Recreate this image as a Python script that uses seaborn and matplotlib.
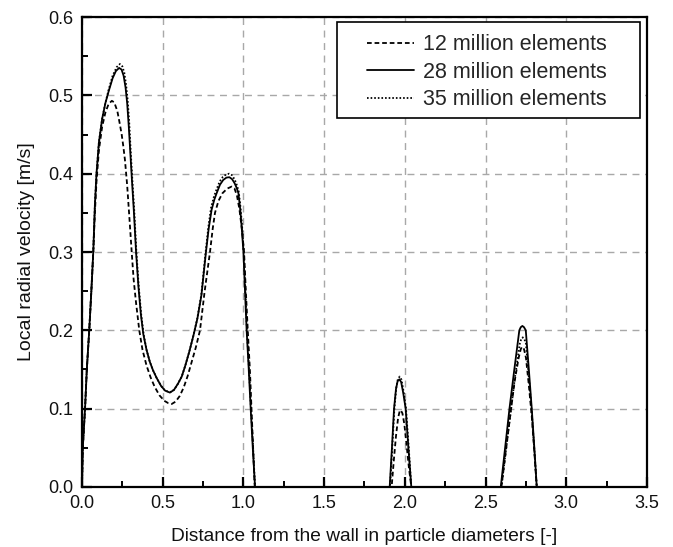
import matplotlib
matplotlib.use("Agg")
import matplotlib.pyplot as plt
import seaborn as sns
from matplotlib.ticker import MultipleLocator
from matplotlib.patches import Rectangle

# ---- data ----
series_labels = ["12 million elements", "28 million elements", "35 million elements"]

x12 = [0, 0.005, 0.019, 0.03, 0.045, 0.058, 0.07, 0.08, 0.09, 0.105, 0.125, 0.145, 0.165,
       0.185, 0.2, 0.219, 0.233, 0.246, 0.256, 0.266, 0.28, 0.295, 0.308, 0.32, 0.335, 0.355,
       0.375, 0.40, 0.425, 0.45, 0.48, 0.51, 0.535, 0.556, 0.58, 0.605, 0.63, 0.655, 0.68,
       0.705, 0.731, 0.76, 0.793, 0.81, 0.824, 0.845, 0.87, 0.9, 0.927, 0.945, 0.96, 0.975,
       0.99, 1.004, 1.015, 1.027, 1.04, 1.05, 1.06, 1.07, 1.5,
       1.918, 1.932, 1.945, 1.958, 1.968, 1.975, 1.985, 1.997, 2.01, 2.025, 2.04, 2.3,
       2.598, 2.625, 2.652, 2.68, 2.705, 2.718, 2.726, 2.738, 2.75, 2.768, 2.786, 2.802,
       2.817, 2.85]
y12 = [0, 0.05, 0.10, 0.15, 0.20, 0.25, 0.30, 0.35, 0.39, 0.43, 0.46, 0.478, 0.489,
       0.493, 0.491, 0.48, 0.465, 0.45, 0.435, 0.418, 0.385, 0.34, 0.30, 0.265, 0.235, 0.20,
       0.175, 0.155, 0.14, 0.128, 0.117, 0.11, 0.107, 0.106, 0.109, 0.116, 0.127, 0.142, 0.16,
       0.178, 0.20, 0.25, 0.30, 0.33, 0.35, 0.365, 0.375, 0.381, 0.3835, 0.381, 0.372, 0.355,
       0.33, 0.30, 0.25, 0.20, 0.15, 0.10, 0.05, 0, 0,
       0, 0.035, 0.065, 0.088, 0.097, 0.098, 0.094, 0.08, 0.055, 0.025, 0, 0,
       0, 0.045, 0.09, 0.135, 0.165, 0.176, 0.179, 0.176, 0.165, 0.13, 0.09, 0.045,
       0, 0]

x28 = [0, 0.005, 0.019, 0.03, 0.045, 0.058, 0.07, 0.08, 0.09, 0.105, 0.125, 0.145, 0.165,
       0.19, 0.21, 0.23, 0.245, 0.258, 0.27, 0.28, 0.29, 0.30, 0.31, 0.322, 0.335, 0.35,
       0.365, 0.38, 0.40, 0.42, 0.44, 0.463, 0.49, 0.515, 0.545, 0.57, 0.595, 0.618, 0.64,
       0.665, 0.69, 0.715, 0.74, 0.768, 0.785, 0.803, 0.82, 0.834, 0.855, 0.875, 0.895, 0.913,
       0.93, 0.945, 0.958, 0.969, 0.98, 0.99, 1.0, 1.01, 1.02, 1.033, 1.045, 1.058, 1.072, 1.5,
       1.906, 1.92, 1.933, 1.945, 1.955, 1.966, 1.977, 1.99, 2.005, 2.022, 2.04, 2.3,
       2.594, 2.621, 2.648, 2.678, 2.709, 2.718, 2.728, 2.738, 2.749, 2.768, 2.786, 2.802,
       2.817, 2.85]
y28 = [0, 0.05, 0.10, 0.15, 0.20, 0.25, 0.30, 0.36, 0.40, 0.44, 0.47, 0.49, 0.505,
       0.522, 0.531, 0.535, 0.533, 0.525, 0.51, 0.49, 0.46, 0.425, 0.39, 0.35, 0.30, 0.255,
       0.22, 0.195, 0.175, 0.16, 0.149, 0.139, 0.129, 0.123, 0.1205, 0.124, 0.132, 0.141, 0.155,
       0.173, 0.193, 0.215, 0.245, 0.30, 0.33, 0.354, 0.367, 0.375, 0.386, 0.392, 0.395, 0.3955,
       0.393, 0.388, 0.382, 0.375, 0.355, 0.33, 0.30, 0.25, 0.20, 0.15, 0.10, 0.05, 0, 0,
       0, 0.05, 0.10, 0.125, 0.135, 0.1375, 0.134, 0.12, 0.10, 0.05, 0, 0,
       0, 0.05, 0.10, 0.15, 0.20, 0.204, 0.2056, 0.204, 0.20, 0.15, 0.10, 0.05,
       0, 0]

x35 = [0, 0.005, 0.019, 0.03, 0.045, 0.058, 0.07, 0.08, 0.09, 0.105, 0.125, 0.145, 0.165,
       0.19, 0.215, 0.235, 0.25, 0.262, 0.273, 0.283, 0.293, 0.302, 0.312, 0.324, 0.337, 0.352,
       0.367, 0.382, 0.40, 0.42, 0.44, 0.463, 0.49, 0.515, 0.545, 0.57, 0.595, 0.618, 0.64,
       0.665, 0.69, 0.714, 0.739, 0.766, 0.783, 0.80, 0.818, 0.832, 0.853, 0.873, 0.893, 0.912,
       0.93, 0.947, 0.96, 0.971, 0.982, 0.992, 1.002, 1.012, 1.022, 1.035, 1.047, 1.06, 1.072, 1.5,
       1.908, 1.922, 1.935, 1.947, 1.957, 1.968, 1.979, 1.992, 2.007, 2.024, 2.04, 2.3,
       2.598, 2.625, 2.652, 2.682, 2.712, 2.721, 2.73, 2.74, 2.75, 2.768, 2.786, 2.802,
       2.817, 2.85]
y35 = [0, 0.05, 0.10, 0.15, 0.20, 0.25, 0.30, 0.36, 0.40, 0.44, 0.47, 0.49, 0.507,
       0.525, 0.536, 0.540, 0.537, 0.529, 0.514, 0.494, 0.464, 0.428, 0.392, 0.352, 0.30, 0.255,
       0.22, 0.195, 0.175, 0.16, 0.149, 0.139, 0.129, 0.123, 0.121, 0.124, 0.132, 0.141, 0.155,
       0.173, 0.193, 0.215, 0.245, 0.30, 0.332, 0.357, 0.371, 0.379, 0.39, 0.396, 0.399, 0.400,
       0.398, 0.392, 0.385, 0.377, 0.357, 0.332, 0.30, 0.25, 0.20, 0.15, 0.10, 0.05, 0, 0,
       0, 0.05, 0.10, 0.127, 0.138, 0.141, 0.137, 0.122, 0.10, 0.05, 0, 0,
       0, 0.045, 0.09, 0.14, 0.183, 0.189, 0.191, 0.189, 0.183, 0.14, 0.095, 0.048,
       0, 0]

x_ticks = [0.0, 0.5, 1.0, 1.5, 2.0, 2.5, 3.0, 3.5]
y_ticks = [0.0, 0.1, 0.2, 0.3, 0.4, 0.5, 0.6]

# ---- figure ----
sns.set_theme(style="white")
plt.rcParams["font.family"] = ["Liberation Sans", "DejaVu Sans"]

fig = plt.figure(figsize=(6.73, 5.47), dpi=100)
ax = fig.add_axes([0.1218, 0.1097, 0.8396, 0.8592])

styles = [(0, (2.6, 1.6)), "-", (0, (0.9, 1.1))]
for xs, ys, lab, ls in zip([x12, x28, x35], [y12, y28, y35], series_labels, styles):
    sns.lineplot(x=xs, y=ys, ax=ax, color="black", linewidth=1.3, linestyle=ls,
                 label=lab, estimator=None, sort=False)

ax.set_xlim(0, 3.5)
ax.set_ylim(0, 0.6)
ax.set_xticks(x_ticks)
ax.set_yticks(y_ticks)
ax.set_xticklabels([f"{v:.1f}" for v in x_ticks])
ax.set_yticklabels([f"{v:.1f}" for v in y_ticks])
ax.xaxis.set_minor_locator(MultipleLocator(0.25))
ax.yaxis.set_minor_locator(MultipleLocator(0.05))
ax.tick_params(axis="both", which="major", direction="in", length=7, width=1.6,
               color="black", labelsize=13, pad=6, labelcolor="#111111")
ax.tick_params(axis="both", which="minor", direction="in", length=4, width=1.4,
               color="black")
ax.tick_params(axis="both", which="both", bottom=True, left=True, top=False, right=False)

ax.grid(True, which="major", color="#a8a8a8", linestyle=(0, (5, 4)), linewidth=1.0)
for s in ax.spines.values():
    s.set_color("black")
    s.set_linewidth(1.6)

ax.set_xlabel("Distance from the wall in particle diameters [-]", fontsize=13.8,
              color="#111111", labelpad=11)
ax.set_ylabel("Local radial velocity [m/s]", fontsize=14, color="#111111", labelpad=10)

# legend frame (square box, wider than the entries as in the reference)
ax.add_patch(Rectangle((0.4513, 0.7851), 0.5363, 0.2043, transform=ax.transAxes,
                       facecolor="white", edgecolor="black", linewidth=1.2,
                       zorder=4.5, clip_on=False))
leg = ax.legend(loc="upper left", bbox_to_anchor=(0.5044, 0.9635), fontsize=15.5,
                frameon=False, handlelength=2.2, handletextpad=0.42,
                borderpad=0.0, labelspacing=0.3, borderaxespad=0.0)
leg.set_zorder(5)

fig.savefig("out.png", dpi=100)
